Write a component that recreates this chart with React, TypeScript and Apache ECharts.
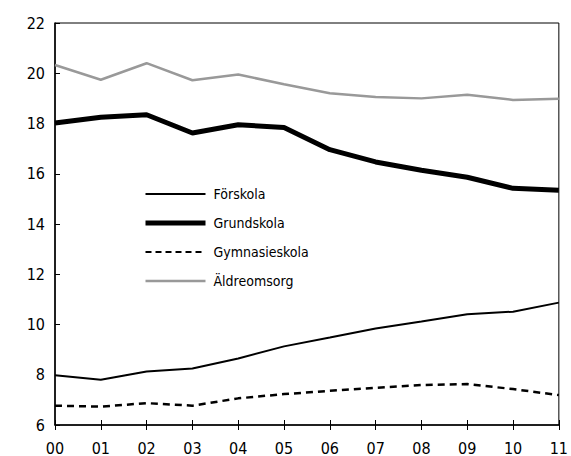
import React, { useEffect, useRef } from "react";
import * as echarts from "echarts";

const years = ["00", "01", "02", "03", "04", "05", "06", "07", "08", "09", "10", "11"];
const forskola = [7.98, 7.8, 8.13, 8.25, 8.65, 9.13, 9.48, 9.84, 10.12, 10.41, 10.51, 10.87];
const grundskola = [18.02, 18.25, 18.35, 17.62, 17.95, 17.84, 16.96, 16.47, 16.14, 15.86, 15.42, 15.34];
const gymnasieskola = [6.77, 6.73, 6.87, 6.77, 7.06, 7.23, 7.36, 7.48, 7.59, 7.63, 7.43, 7.19];
const aldreomsorg = [20.33, 19.74, 20.4, 19.72, 19.95, 19.56, 19.2, 19.05, 19.0, 19.14, 18.94, 18.99];

const FONT = '"Liberation Sans Narrow", "DejaVu Sans Condensed", "Roboto Condensed", sans-serif';

export default function App() {
  const ref = useRef<HTMLDivElement>(null);
  useEffect(() => {
    const chart = echarts.init(ref.current!, null, { renderer: "svg" });
    const hidden = { opacity: 0 };
    chart.setOption({
      animation: false,
      backgroundColor: "#fff",
      textStyle: { fontFamily: FONT },
      grid: {
        left: 55,
        right: 7,
        top: 23,
        bottom: 30,
        show: true,
        borderColor: "#000",
        borderWidth: 1,
      },
      legend: {
        orient: "vertical",
        left: 138,
        top: 182,
        itemWidth: 60,
        itemHeight: 14,
        itemGap: 15,
        textStyle: { fontFamily: FONT, fontSize: 14, color: "#000", padding: [0, 0, 0, 3] },
        data: [
          { name: "Förskola", itemStyle: hidden, lineStyle: { width: 2, color: "#000", type: "solid" } },
          { name: "Grundskola", itemStyle: hidden, lineStyle: { width: 5, color: "#000", type: "solid" } },
          { name: "Gymnasieskola", itemStyle: hidden, lineStyle: { width: 2, color: "#000", type: [6, 4] } },
          { name: "Äldreomsorg", itemStyle: hidden, lineStyle: { width: 2.5, color: "#999", type: "solid" } },
        ],
      },
      xAxis: [
        {
          type: "category",
          data: years,
          boundaryGap: false,
          axisLine: { lineStyle: { color: "#000", width: 1.5 } },
          axisTick: { inside: true, length: 5, lineStyle: { color: "#000" } },
          axisLabel: { color: "#000", fontSize: 16, fontFamily: FONT, margin: 15 },
          splitLine: { show: false },
        },
        {
          type: "category",
          data: years,
          position: "bottom",
          boundaryGap: false,
          axisLine: { show: false },
          axisTick: { inside: false, length: 5, lineStyle: { color: "#000" } },
          axisLabel: { show: false },
          splitLine: { show: false },
        },
      ],
      yAxis: {
        type: "value",
        min: 6,
        max: 22,
        interval: 2,
        axisLine: { show: true, lineStyle: { color: "#000", width: 1.5 } },
        axisTick: { show: true, inside: true, length: 5, lineStyle: { color: "#000" } },
        axisLabel: { color: "#000", fontSize: 16, fontFamily: FONT, margin: 10 },
        splitLine: { show: false },
      },
      series: [
        {
          name: "Förskola",
          type: "line",
          data: forskola,
          symbol: "none",
          lineStyle: { color: "#000", width: 2 },
          itemStyle: { color: "#000" },
        },
        {
          name: "Grundskola",
          type: "line",
          data: grundskola,
          symbol: "none",
          lineStyle: { color: "#000", width: 5 },
          itemStyle: { color: "#000" },
        },
        {
          name: "Gymnasieskola",
          type: "line",
          data: gymnasieskola,
          symbol: "none",
          lineStyle: { color: "#000", width: 2.5, type: [7, 5] },
          itemStyle: { color: "#000" },
        },
        {
          name: "Äldreomsorg",
          type: "line",
          data: aldreomsorg,
          symbol: "none",
          lineStyle: { color: "#999", width: 2.5 },
          itemStyle: { color: "#999" },
        },
      ],
    });
    return () => chart.dispose();
  }, []);
  return <div ref={ref} style={{ width: 571, height: 456, position: "absolute", left: 0, top: 0 }} />;
}
